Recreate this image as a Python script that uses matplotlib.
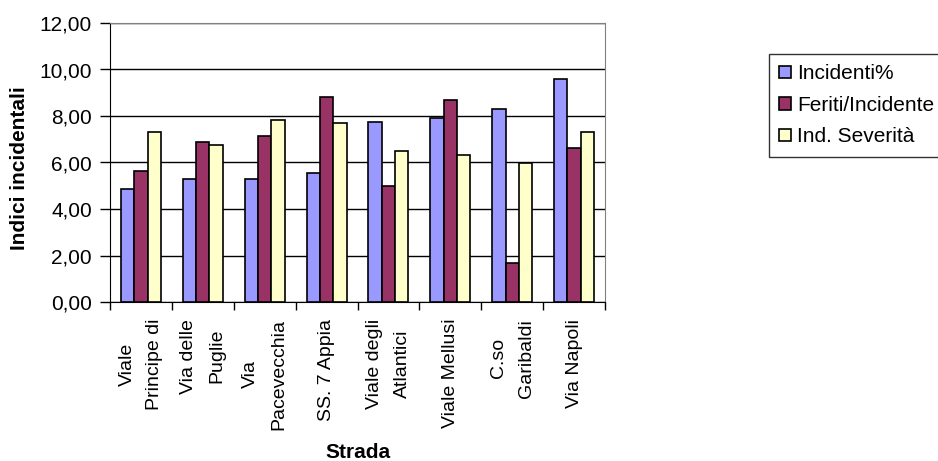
import matplotlib
matplotlib.use("Agg")
import matplotlib.pyplot as plt
import numpy
from matplotlib.ticker import FuncFormatter, FixedLocator

plt.rcParams["font.family"] = ["Liberation Sans", "DejaVu Sans"]

strade = [
    "Viale\nPrincipe di",
    "Via delle\nPuglie",
    "Via\nPacevecchia",
    "SS. 7 Appia",
    "Viale degli\nAtlantici",
    "Viale Mellusi",
    "C.so\nGaribaldi",
    "Via Napoli",
]
incidenti = [4.86, 5.29, 5.29, 5.56, 7.74, 7.90, 8.32, 9.59]
feriti_incidente = [5.63, 6.90, 7.12, 8.82, 5.00, 8.67, 1.68, 6.64]
ind_severita = [7.33, 6.77, 7.81, 7.69, 6.48, 6.34, 5.99, 7.33]

series = [
    ("Incidenti%", incidenti, "#9999FF"),
    ("Feriti/Incidente", feriti_incidente, "#993366"),
    ("Ind. Severità", ind_severita, "#FFFFCC"),
]

fig = plt.figure(figsize=(9.38, 4.61), dpi=100)
ax = fig.add_axes([110 / 938, 1 - 302 / 461, 495 / 938, 279 / 461])

x = numpy.arange(len(strade))
w = 0.215
for i, (name, vals, col) in enumerate(series):
    ax.bar(x + (i - 1) * w, vals, w, color=col, edgecolor="black",
           linewidth=1.2, label=name, zorder=3)

ax.set_ylim(0, 12)
ax.set_xlim(-0.5, len(strade) - 0.5)
ax.set_yticks(numpy.arange(0, 13, 2))
ax.yaxis.set_major_formatter(FuncFormatter(lambda v, p: f"{v:.2f}".replace(".", ",")))
ax.grid(axis="y", color="black", linewidth=1, zorder=0)
ax.tick_params(axis="y", direction="out", length=7, width=1, pad=6, labelsize=15)

ax.set_xticks(x)
ax.set_xticklabels(strade, rotation=90, fontsize=14, linespacing=1.85,
                   multialignment="center")
ax.tick_params(axis="x", which="major", length=0, pad=12)
ax.xaxis.set_minor_locator(FixedLocator(numpy.arange(-0.5, len(strade), 1)))
ax.tick_params(axis="x", which="minor", direction="out", length=6, width=1)

for side in ("top", "right"):
    ax.spines[side].set_color("#808080")
for side in ("left", "bottom"):
    ax.spines[side].set_color("black")

ax.set_ylabel("Indici incidentali", fontsize=15, fontweight="bold", va="center")
ax.yaxis.set_label_coords(-0.182, 0.48)
ax.set_xlabel("Strada", fontsize=15, fontweight="bold", va="center")
ax.xaxis.set_label_coords(0.5, -0.538)

leg = fig.legend(loc="upper left", bbox_to_anchor=(769 / 938, 1 - 54 / 461),
                 fontsize=15, frameon=True, fancybox=False, borderpad=0.5,
                 handlelength=0.55, handleheight=0.55, handletextpad=0.3,
                 labelspacing=0.6, borderaxespad=0)
leg.get_frame().set_edgecolor("black")
leg.get_frame().set_linewidth(1)

fig.savefig("out.png", dpi=100)
